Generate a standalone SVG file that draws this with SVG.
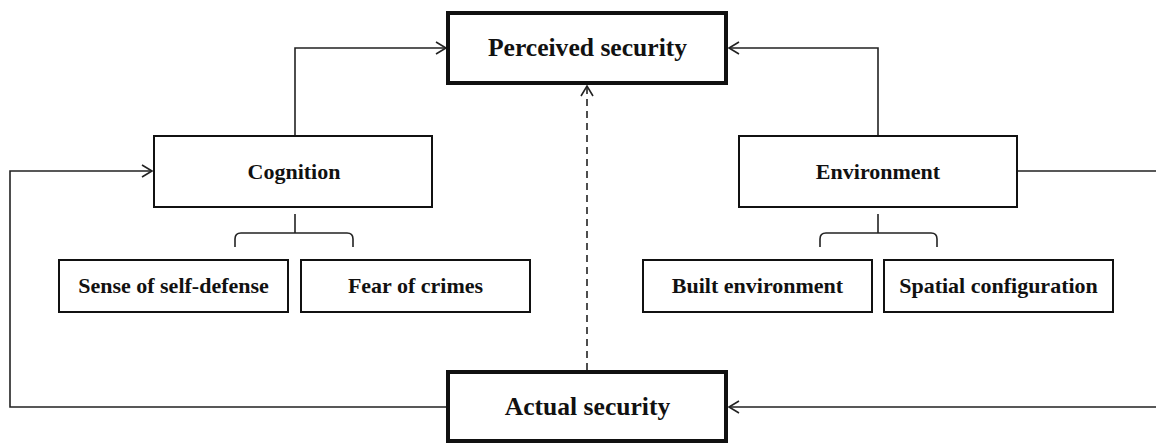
<svg xmlns="http://www.w3.org/2000/svg" width="1156" height="445" viewBox="0 0 1156 445">
<style>
.box{fill:#fff;stroke:#111;stroke-width:2}
.main{fill:#fff;stroke:#111;stroke-width:4}
.lbl{font-family:"Liberation Serif","Times New Roman",serif;font-weight:bold;fill:#111;text-anchor:middle}
.big{font-size:25.6px}
.sm{font-size:22px}
.con{fill:none;stroke:#222;stroke-width:1.6}
.dash{stroke-dasharray:7 5}
</style>
<defs>
<marker id="arr" markerUnits="userSpaceOnUse" markerWidth="14" markerHeight="14" refX="11" refY="7" orient="auto">
<path d="M1,1 L11,7 L1,13" fill="none" stroke="#222" stroke-width="1.6"/>
</marker>
</defs>
<rect width="1156" height="445" fill="#fff"/>
<g id="connectors">
<path class="con" d="M295,135 V48 H446" marker-end="url(#arr)"/>
<path class="con" d="M878,135 V48 H729" marker-end="url(#arr)"/>
<path class="con dash" d="M587,370 V86" marker-end="url(#arr)"/>
<path class="con" d="M447,407 H10 V171 H152" marker-end="url(#arr)"/>
<path class="con" d="M1017,171 H1175 V407 H729" marker-end="url(#arr)"/>
<path class="con" d="M295,214 V233 M235,247 V239 Q235,233 241,233 H347 Q353,233 353,239 V247"/>
<path class="con" d="M878,214 V233 M820,247 V239 Q820,233 826,233 H931 Q937,233 937,239 V247"/>
</g>
<g id="perceived">
<rect class="main" x="448" y="13" width="278" height="70"/>
<text class="lbl big" x="587.5" y="56">Perceived security</text>
</g>
<g id="actual">
<rect class="main" x="448" y="372" width="278" height="69"/>
<text class="lbl big" x="587.5" y="415">Actual security</text>
</g>
<g id="cognition">
<rect class="box" x="154" y="136" width="278" height="71"/>
<text class="lbl sm" x="294" y="179">Cognition</text>
</g>
<g id="environment">
<rect class="box" x="739" y="136" width="278" height="71"/>
<text class="lbl sm" x="878" y="179">Environment</text>
</g>
<g id="self-defense">
<rect class="box" x="59" y="260" width="229" height="52"/>
<text class="lbl sm" x="173.5" y="293">Sense of self-defense</text>
</g>
<g id="fear">
<rect class="box" x="301" y="260" width="229" height="52"/>
<text class="lbl sm" x="415.5" y="293">Fear of crimes</text>
</g>
<g id="built">
<rect class="box" x="643" y="260" width="229" height="52"/>
<text class="lbl sm" x="757.5" y="293">Built environment</text>
</g>
<g id="spatial">
<rect class="box" x="884" y="260" width="229" height="52"/>
<text class="lbl sm" x="998.5" y="293">Spatial configuration</text>
</g>
</svg>
